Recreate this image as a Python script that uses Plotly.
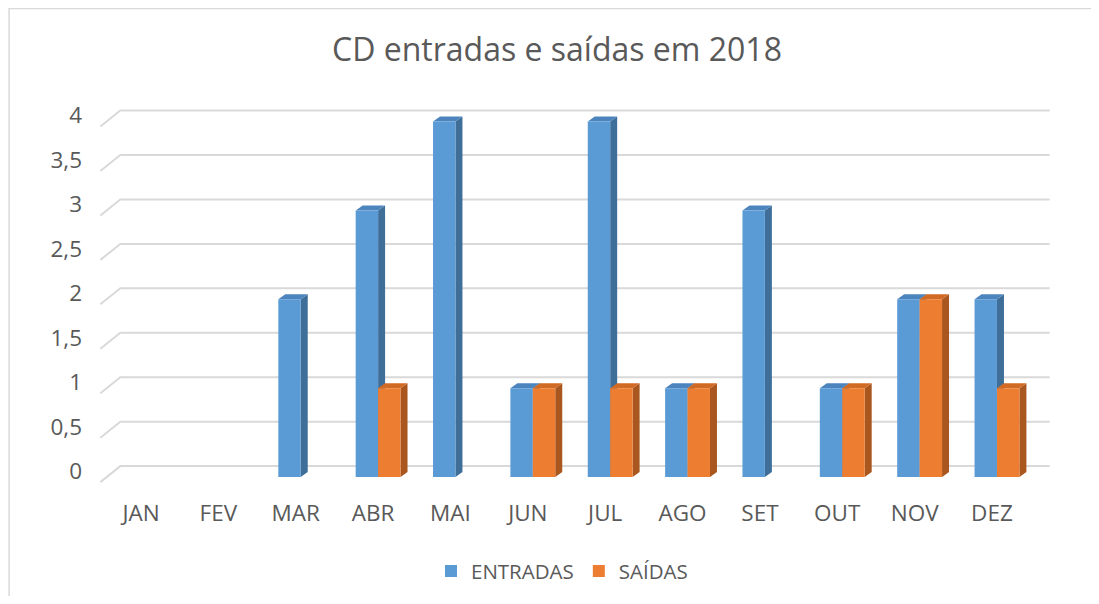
import numpy as np
import plotly.graph_objects as go

# data
months = ["JAN", "FEV", "MAR", "ABR", "MAI", "JUN", "JUL", "AGO", "SET", "OUT", "NOV", "DEZ"]
entradas = [0, 0, 2, 3, 4, 1, 4, 1, 3, 1, 2, 2]
saidas = [0, 0, 0, 1, 0, 1, 1, 1, 0, 1, 2, 1]
y_ticks = [0, 0.5, 1, 1.5, 2, 2.5, 3, 3.5, 4]
y_ticktext = ["0", "0,5", "1", "1,5", "2", "2,5", "3", "3,5", "4"]

# the page body has an 8px margin, so the figure is drawn 8px in from the corner
OFF = 8
W_FIG, H_FIG = 1099 - OFF, 604 - 2 * OFF

# geometry (figure pixels), used to fake the excel 3d look
PX_CAT = 77.4      # pixels per category
PX_VAL = 88.8      # pixels per unit of value
X_RANGE = [-0.75, 11.75]
Y_RANGE = [-0.1, 4.4]
LEFT = (145.8 - OFF) - (0 - X_RANGE[0]) * PX_CAT
PLOT_W = (X_RANGE[1] - X_RANGE[0]) * PX_CAT
BOTTOM_PIX = (477 - OFF) + (0 - Y_RANGE[0]) * PX_VAL
PLOT_H = (Y_RANGE[1] - Y_RANGE[0]) * PX_VAL
TOP = BOTTOM_PIX - PLOT_H

BARGAP = 0.42
BAR_W = (1 - BARGAP) / 2

FONT = "Open Sans"
TXT = "#595959"
GRID = "#D9D9D9"
BLUE, BLUE_TOP, BLUE_SIDE = "#5B9BD5", "#4C85BE", "#3F6E99"
ORANGE, ORANGE_TOP, ORANGE_SIDE = "#ED7D31", "#D06A24", "#A9571E"


def dx(px):
    return px / PX_CAT


def dy(px):
    return px / PX_VAL


def path(points):
    return "M " + " L ".join("{:.4f},{:.4f}".format(a, b) for a, b in points) + " Z"


def open_path(points):
    return "M " + " L ".join("{:.4f},{:.4f}".format(a, b) for a, b in points)


x = np.arange(len(months))

fig = go.Figure()
fig.add_trace(go.Bar(x=x, y=entradas, name="ENTRADAS", marker=dict(color=BLUE, line=dict(width=0))))
fig.add_trace(go.Bar(x=x, y=saidas, name="SAÍDAS", marker=dict(color=ORANGE, line=dict(width=0))))

shapes = []

# back wall gridlines with the little slanted floor/side part
x_left = -0.5
x_right = len(months) - 0.5
for v in y_ticks:
    shapes.append(dict(
        type="path", xref="x", yref="y", layer="below",
        path=open_path([(x_left - dx(7), v - dy(5)),
                        (x_left + dx(13), v + dy(11)),
                        (x_right + dx(14), v + dy(11))]),
        line=dict(color=GRID, width=2),
    ))

# depth faces of the columns (side + top), behind the plotly bars
depth_x, depth_y = dx(7), dy(5)
for values, offset, top_col, side_col in [(entradas, -BAR_W, BLUE_TOP, BLUE_SIDE),
                                          (saidas, 0, ORANGE_TOP, ORANGE_SIDE)]:
    for i, v in enumerate(values):
        if v <= 0:
            continue
        x0 = i + offset
        x1 = x0 + BAR_W
        shapes.append(dict(
            type="path", xref="x", yref="y", layer="below",
            path=path([(x1, 0), (x1 + depth_x, depth_y), (x1 + depth_x, v + depth_y), (x1, v)]),
            fillcolor=side_col, line=dict(width=0),
        ))
        shapes.append(dict(
            type="path", xref="x", yref="y", layer="below",
            path=path([(x0, v), (x0 + depth_x, v + depth_y), (x1 + depth_x, v + depth_y), (x1, v)]),
            fillcolor=top_col, line=dict(width=0),
        ))

# outer chart border: only the left and top edges show in the picture
bx0 = (0.8 - LEFT) / PLOT_W
bx1 = (W_FIG - LEFT) / PLOT_W
by0 = (BOTTOM_PIX - H_FIG) / PLOT_H
by1 = (BOTTOM_PIX - 0.8) / PLOT_H
shapes.append(dict(
    type="path", xref="paper", yref="paper",
    path=open_path([(bx0, by0), (bx0, by1), (bx1, by1)]),
    line=dict(color=GRID, width=1.5),
))

fig.update_layout(
    width=W_FIG, height=H_FIG,
    margin=dict(l=LEFT, r=W_FIG - LEFT - PLOT_W, t=TOP, b=H_FIG - BOTTOM_PIX, autoexpand=False),
    paper_bgcolor="#fff", plot_bgcolor="rgba(0,0,0,0)",
    barmode="group", bargap=BARGAP, bargroupgap=0,
    shapes=shapes,
    font=dict(family=FONT, color=TXT),
    title=dict(text="CD entradas e saídas em 2018", font=dict(family=FONT, size=32, color=TXT),
               x=(557 - OFF) / W_FIG, xanchor="center", y=1 - (50 - OFF) / H_FIG, yanchor="middle"),
    legend=dict(orientation="h", x=(562 - OFF - LEFT) / PLOT_W, xanchor="center",
                y=(BOTTOM_PIX - (571 - OFF)) / PLOT_H, yanchor="middle",
                font=dict(family=FONT, size=20.5, color=TXT)),
    showlegend=True,
)
fig.update_xaxes(range=X_RANGE, tickvals=x, ticktext=months, showgrid=False, zeroline=False,
                 showline=False, ticks="", tickfont=dict(size=22.5, color=TXT),
                 ticklabelstandoff=11, ticklabelshift=-5)
fig.update_yaxes(range=Y_RANGE, tickvals=y_ticks, ticktext=y_ticktext, showgrid=False, zeroline=False,
                 showline=False, ticks="", tickfont=dict(size=22.5, color=TXT),
                 ticklabelstandoff=5, ticklabelshift=-6)

fig.write_html("out.html")
